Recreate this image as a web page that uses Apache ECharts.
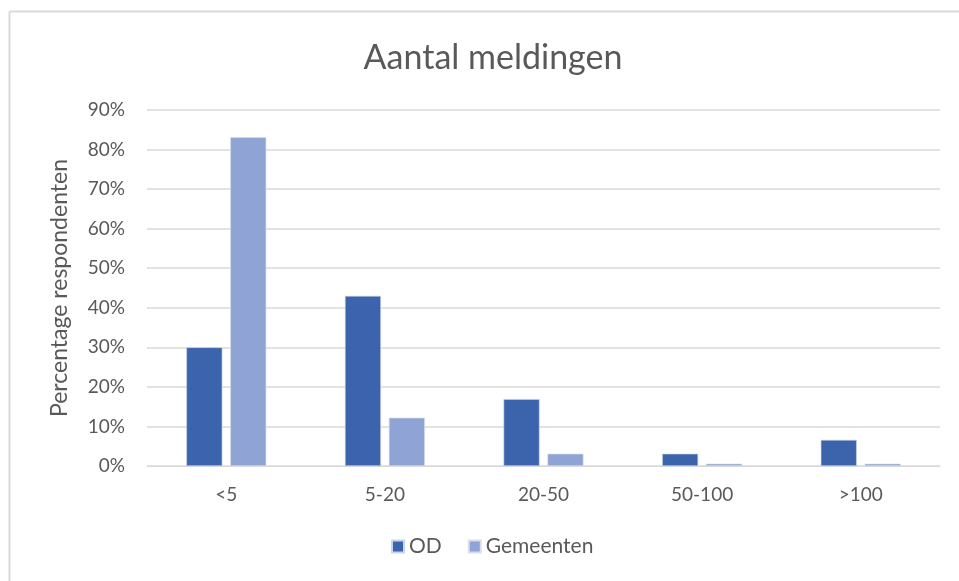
<!DOCTYPE html>
<html>
<head>
<meta charset="utf-8">
<script src="https://cdn.jsdelivr.net/npm/echarts@6/dist/echarts.min.js"></script>
<style>
html,body{margin:0;padding:0;background:#fff;}
#chart{width:959px;height:581px;}
</style>
</head>
<body>
<div id="chart"></div>
<script>
const categories = ['<5', '5-20', '20-50', '50-100', '>100'];
const odValues = [30.0, 43.0, 16.9, 3.1, 6.6];
const gemeentenValues = [83.1, 12.2, 3.1, 0.6, 0.6];
const seriesNames = ['OD', 'Gemeenten'];
const chartTitle = 'Aantal meldingen';
const yAxisTitle = 'Percentage respondenten';

const FONT = 'Lato, "Open Sans", sans-serif';
const TEXT = '#595959';

const chart = echarts.init(document.getElementById('chart'));
chart.setOption({
  backgroundColor: '#ffffff',
  animation: false,
  textStyle: { fontFamily: FONT },
  graphic: [
    { type: 'line', shape: { x1: 9.5, y1: 11.5, x2: 959, y2: 11.5 }, style: { stroke: '#d9d9d9', lineWidth: 2 } },
    { type: 'line', shape: { x1: 9.5, y1: 11.5, x2: 9.5, y2: 581 }, style: { stroke: '#d9d9d9', lineWidth: 2 } }
  ],
  title: {
    text: chartTitle,
    left: 488,
    textAlign: 'center',
    top: 36,
    textStyle: { fontFamily: FONT, fontSize: 34, fontWeight: 'normal', color: TEXT }
  },
  legend: {
    data: seriesNames,
    left: 386,
    bottom: 19,
    icon: 'rect',
    itemWidth: 12,
    itemHeight: 12,
    itemGap: 26,
    textStyle: { fontFamily: FONT, fontSize: 21, color: TEXT, padding: [0, 0, 0, 0] }
  },
  grid: { left: 147, right: 19, top: 110, bottom: 115 },
  xAxis: {
    type: 'category',
    data: categories,
    axisTick: { show: false },
    axisLine: { lineStyle: { color: '#d9d9d9', width: 1 } },
    axisLabel: { fontFamily: FONT, fontSize: 19, color: TEXT, margin: 19 }
  },
  yAxis: {
    type: 'value',
    min: 0,
    max: 90,
    interval: 10,
    name: yAxisTitle,
    nameLocation: 'middle',
    nameGap: 76,
    nameTextStyle: { fontFamily: FONT, fontSize: 23, color: TEXT },
    axisLabel: { formatter: '{value}%', fontFamily: FONT, fontSize: 19, color: TEXT, margin: 22 },
    splitLine: { lineStyle: { color: '#d9d9d9', width: 1.5 } },
    axisLine: { show: false },
    axisTick: { show: false }
  },
  series: [
    {
      name: seriesNames[0], type: 'bar', data: odValues,
      barWidth: '22.7%', barGap: '22%',
      itemStyle: { color: '#3c64ad', borderColor: '#c9d3ea', borderWidth: 0.6 }
    },
    {
      name: seriesNames[1], type: 'bar', data: gemeentenValues,
      barWidth: '22.7%', barGap: '22%',
      itemStyle: { color: '#8fa4d4', borderColor: '#d6def0', borderWidth: 0.6 }
    }
  ]
});
</script>
</body>
</html>
